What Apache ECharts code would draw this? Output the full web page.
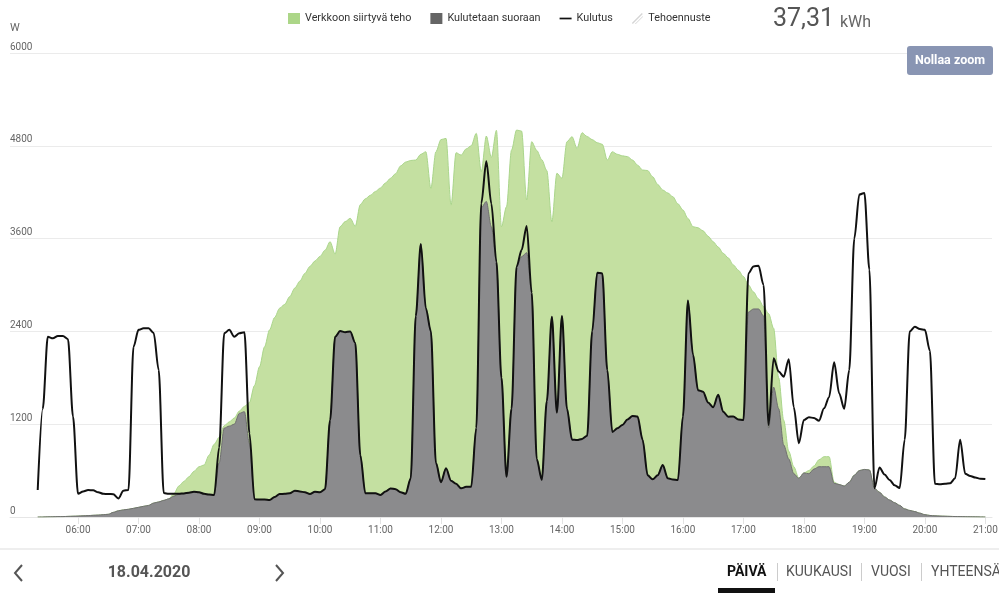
<!DOCTYPE html>
<html>
<head>
<meta charset="utf-8">
<script src="https://cdn.jsdelivr.net/npm/echarts@6/dist/echarts.min.js"></script>
<style>
html,body{margin:0;padding:0;background:#fff;}
#chart{width:999px;height:593px;}
</style>
</head>
<body>
<div id="chart"></div>
<script>
// ---- data (5-minute samples starting 05:20) ----
const startTime = '05:20';
const stepMinutes = 5;

const consumption = [
  350,1400,2330,2310,2340,2340,2300,1300,300,330,
  349,345,320,300,297,295,240,340,350,2200,
  2420,2440,2440,2380,1900,310,300,300,300,305,
  315,327,320,300,290,284,900,2375,2420,2330,
  2375,2388,1082,230,225,225,220,260,297,300,
  306,340,330,320,297,327,320,360,1250,2330,
  2405,2390,2400,2250,800,306,306,306,285,330,
  370,360,320,300,500,2600,3530,2700,2400,700,
  450,630,470,430,371,390,392,1150,4056,4600,
  4050,3300,1800,521,1400,3236,3452,3763,2900,750,
  480,1500,2590,1350,2600,1400,1000,995,1010,1050,
  2400,3160,3150,1900,1100,1147,1190,1260,1306,1300,
  1000,540,487,540,672,500,485,478,1300,2800,
  2100,1640,1620,1480,1420,1580,1360,1297,1300,1260,
  1254,3150,3240,3250,3000,1190,2052,1880,1814,2040,
  1420,953,1254,1290,1280,1245,1405,1550,2000,1600,
  1400,1900,3600,4170,4190,3200,371,640,550,480,
  410,375,1000,2400,2460,2431,2420,2150,430,423,
  430,436,500,1000,560,530,510,495,490
];

const directUse = [
  0,0,2,3,5,5,8,10,12,15,
  18,22,25,30,35,60,80,92,100,112,
  125,138,150,180,195,215,235,270,293,300,
  315,327,320,300,290,284,700,1150,1175,1200,
  1340,1362,950,230,225,225,220,260,297,300,
  306,340,330,320,297,327,320,360,1250,2330,
  2405,2390,2400,2250,800,306,306,306,285,330,
  370,360,320,300,500,2600,3530,2700,2400,700,
  450,630,470,430,371,390,392,1150,4000,4080,
  3754,3300,1800,521,1400,3236,3366,3418,2900,750,
  480,1500,2590,1350,2600,1400,1000,995,1010,1050,
  2400,3160,3150,1900,1100,1147,1190,1260,1306,1300,
  1000,540,487,540,672,500,485,478,1300,2800,
  2100,1640,1620,1480,1420,1580,1360,1297,1300,1260,
  1254,2650,2690,2690,2600,1150,1680,1400,930,750,
  560,500,570,560,620,650,650,650,436,420,
  400,450,540,600,615,608,370,320,260,220,
  185,150,105,85,70,50,30,20,15,12,
  10,8,6,5,4,3,2,1,0
];

const production = [
  0,0,2,3,5,5,8,10,12,15,
  18,22,25,30,35,60,80,92,100,112,
  125,138,150,180,195,215,235,300,400,460,
  520,590,650,672,800,940,1030,1180,1230,1280,
  1370,1430,1480,1700,1943,2200,2420,2580,2700,2750,
  2850,2960,3050,3150,3240,3310,3370,3450,3560,3400,
  3754,3820,3862,3760,4040,4115,4160,4210,4255,4320,
  4380,4440,4540,4590,4610,4616,4690,4723,4250,4723,
  4880,4896,4034,4710,4680,4760,4800,4961,4465,4926,
  4650,5000,3754,4012,4745,5004,4990,4099,4853,4740,
  4620,4480,3818,4444,4380,4853,4918,4767,4969,4920,
  4880,4840,4820,4616,4723,4690,4670,4660,4616,4550,
  4487,4480,4400,4300,4228,4190,4142,4050,3970,3860,
  3754,3740,3700,3630,3560,3490,3410,3350,3260,3190,
  3110,3000,2910,2820,2719,2630,2440,1800,1250,850,
  650,500,570,600,660,740,780,780,450,420,
  400,450,540,600,615,608,370,320,260,220,
  185,150,105,85,70,50,30,20,15,12,
  10,8,6,5,4,3,2,1,0
];

const hourTicks = [6,7,8,9,10,11,12,13,14,15,16,17,18,19,20,21];
const yMax = 6000, yStep = 1200;
const totalEnergy = '37,31';
const energyUnit = 'kWh';
const dateLabel = '18.04.2020';
const periodTabs = ['PÄIVÄ','KUUKAUSI','VUOSI','YHTEENSÄ'];
const seriesNames = ['Verkkoon siirtyvä teho','Kulutetaan suoraan','Kulutus','Tehoennuste'];

// ---- derived ----
const [h0, m0] = startTime.split(':').map(Number);
const hours = consumption.map((_, i) => h0 + (m0 + i * stepMinutes) / 60);
const gridFeed = production.map((p, i) => Math.max(0, p - directUse[i]));
// grid feed drawn on top of the directly-used power (manual stacking)
const gridFeedTop = gridFeed.map((g, i) => directUse[i] + g);
const pair = arr => arr.map((v, i) => [hours[i], v]);
const pad2 = n => (n < 10 ? '0' : '') + n;

const FONT = 'Roboto, "Noto Sans", sans-serif';

const chart = echarts.init(document.getElementById('chart'));
const option = {
  animation: false,
  backgroundColor: '#ffffff',
  textStyle: { fontFamily: FONT },
  grid: { left: 10, right: 7, top: 53, bottom: 76, containLabel: false, outerBoundsMode: 'none' },
  legend: {
    top: 8, left: 283,
    itemWidth: 12, itemHeight: 11, itemGap: 19,
    textStyle: { color: '#333', fontSize: 10.8, fontFamily: FONT },
    data: [
      { name: seriesNames[0], icon: 'rect', itemStyle: { color: '#acd688' } },
      { name: seriesNames[1], icon: 'rect', itemStyle: { color: '#656565' } },
      { name: seriesNames[2], icon: 'path://M0,0 L14,0 L14,2 L0,2 Z', itemStyle: { color: '#111' } },
      { name: seriesNames[3], icon: 'path://M0,10 L10,0 L11,1 L1,11 Z M3,11 L11,3 L11,4 L4,11 Z', itemStyle: { color: '#d6d6d6' } }
    ]
  },
  xAxis: {
    type: 'value', min: 4.875, max: 21.11,
    splitLine: { show: false },
    axisLine: { show: true, lineStyle: { color: '#e6e6e6', width: 1 } },
    axisTick: { show: true, customValues: hourTicks, length: 7, lineStyle: { color: '#e3e3e3' } },
    axisLabel: {
      customValues: hourTicks, color: '#666', fontSize: 10, margin: 8, fontFamily: FONT,
      formatter: v => pad2(Math.round(v)) + ':00'
    }
  },
  yAxis: {
    type: 'value', min: 0, max: yMax, interval: yStep,
    axisLine: { show: false }, axisTick: { show: false },
    splitLine: { lineStyle: { color: '#ebebeb', width: 1 } },
    axisLabel: {
      inside: true, align: 'left', verticalAlign: 'bottom', margin: 0,
      color: '#666', fontSize: 10, padding: [0, 0, 1, 0], fontFamily: FONT,
      formatter: v => String(v)
    }
  },
  series: [
    {
      name: seriesNames[0], type: 'line', data: pair(gridFeedTop),
      smooth: 0.3, smoothMonotone: 'x', symbol: 'none', color: '#acd688',
      lineStyle: { color: '#aad58b', width: 1 },
      areaStyle: { color: '#c4e0a1', opacity: 1 }, z: 1
    },
    {
      name: seriesNames[1], type: 'line', data: pair(directUse),
      smooth: 0.3, smoothMonotone: 'x', symbol: 'none', color: '#656565',
      lineStyle: { color: '#6f6f6f', width: 1 },
      areaStyle: { color: '#8b8b8d', opacity: 1 }, z: 2
    },
    {
      name: seriesNames[2], type: 'line', data: pair(consumption),
      smooth: 0.3, smoothMonotone: 'x', symbol: 'none', color: '#111',
      lineStyle: { color: '#111', width: 2 }, z: 5
    },
    {
      name: seriesNames[3], type: 'line', data: [], symbol: 'none', color: '#d6d6d6'
    }
  ],
  graphic: [
    { type: 'text', left: 10, top: 23, style: { text: 'W', font: '11px ' + FONT, fill: '#666' } },
    { type: 'text', x: 773, y: 20, style: { text: totalEnergy, font: '25px ' + FONT, fill: '#555', verticalAlign: 'middle' } },
    { type: 'text', x: 840, y: 23, style: { text: energyUnit, font: '16px ' + FONT, fill: '#666', verticalAlign: 'middle' } },
    { type: 'rect', shape: { x: 907, y: 46, width: 86, height: 29, r: 3 }, style: { fill: '#8995b3' }, z: 10 },
    { type: 'text', x: 950, y: 60.5, z: 11, style: { text: 'Nollaa zoom', font: 'bold 12.5px ' + FONT, fill: '#fff', align: 'center', verticalAlign: 'middle' } },
    { type: 'rect', shape: { x: 0, y: 548, width: 999, height: 2 }, style: { fill: '#eeeeee' } },
    { type: 'polyline', shape: { points: [[22, 565], [15, 573], [22, 581]] }, style: { stroke: '#555', lineWidth: 2, fill: null } },
    { type: 'polyline', shape: { points: [[276, 565], [283, 573], [276, 581]] }, style: { stroke: '#555', lineWidth: 2, fill: null } },
    { type: 'text', x: 149, y: 573, style: { text: dateLabel, font: 'bold 16px ' + FONT, fill: '#555', align: 'center', verticalAlign: 'middle' } },
    { type: 'text', x: 727, y: 572, style: { text: periodTabs[0], font: 'bold 14px ' + FONT, fill: '#111', verticalAlign: 'middle' } },
    { type: 'rect', shape: { x: 777, y: 563, width: 1, height: 18 }, style: { fill: '#cccccc' } },
    { type: 'text', x: 786, y: 572, style: { text: periodTabs[1], font: '14px ' + FONT, fill: '#555', verticalAlign: 'middle' } },
    { type: 'rect', shape: { x: 861, y: 563, width: 1, height: 18 }, style: { fill: '#cccccc' } },
    { type: 'text', x: 871, y: 572, style: { text: periodTabs[2], font: '14px ' + FONT, fill: '#555', verticalAlign: 'middle' } },
    { type: 'rect', shape: { x: 921, y: 563, width: 1, height: 18 }, style: { fill: '#cccccc' } },
    { type: 'text', x: 931, y: 572, style: { text: periodTabs[3], font: '14px ' + FONT, fill: '#555', verticalAlign: 'middle' } },
    { type: 'rect', shape: { x: 718, y: 588, width: 57, height: 5 }, style: { fill: '#111' } }
  ]
};
chart.setOption(option);
</script>
</body>
</html>
